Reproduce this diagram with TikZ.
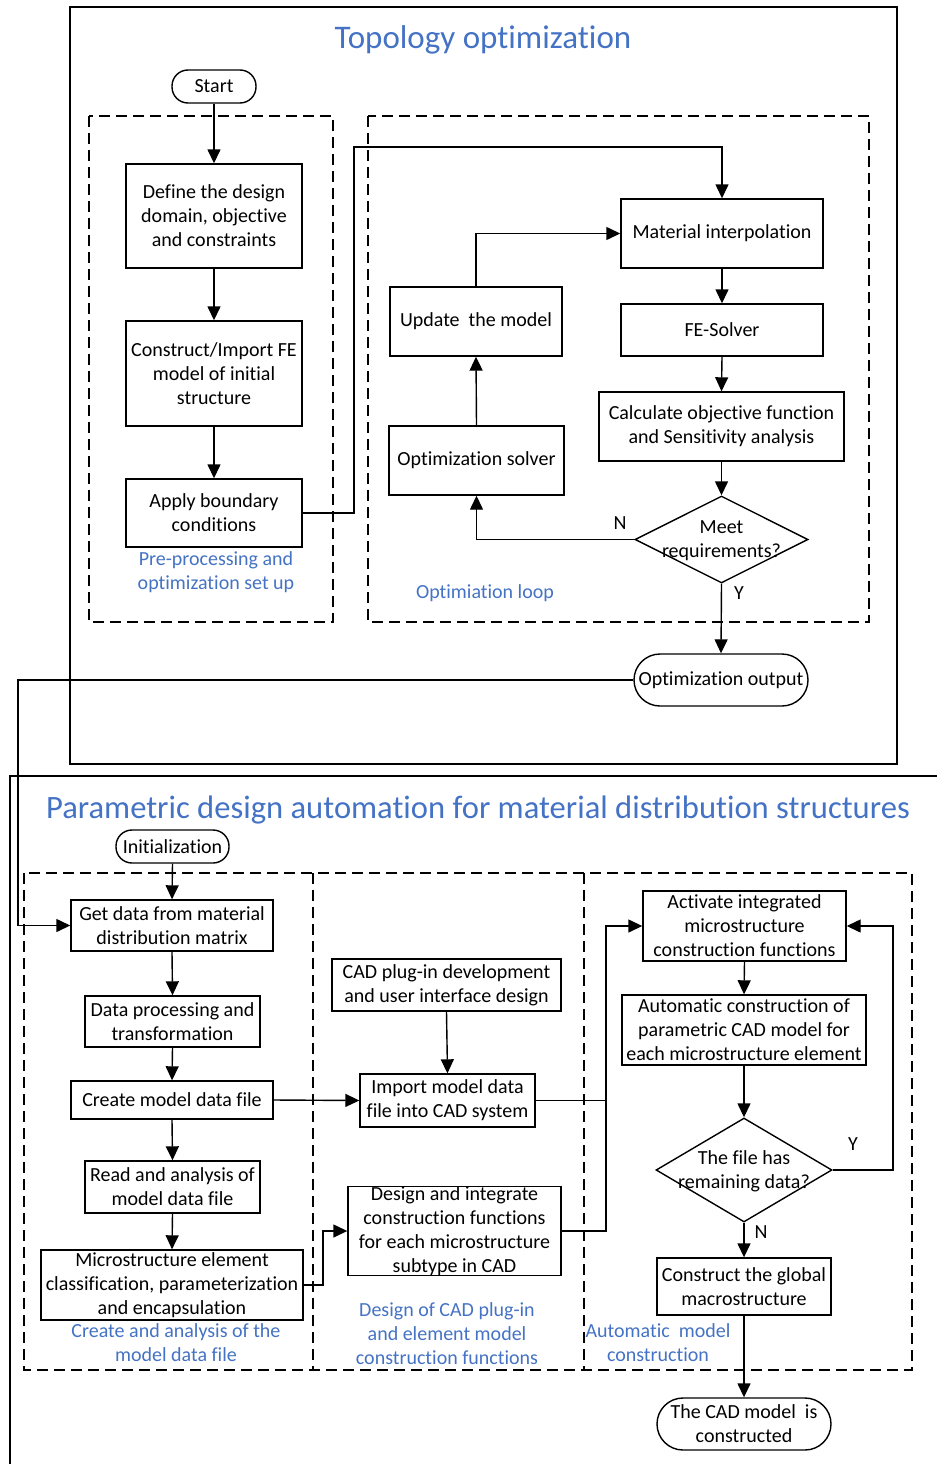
\documentclass[tikz,border=0pt]{standalone}
\usepackage{fontspec}
\setmainfont{Carlito}[Ligatures=NoCommon]
\usetikzlibrary{shapes.geometric,arrows.meta}
\definecolor{tblue}{RGB}{68,114,196}
\begin{document}
\begin{tikzpicture}[x=1pt,y=-1pt,
  lw/.style={line width=1.4pt},
  box/.style={draw,lw,align=center,inner sep=0pt,font=\fontsize{20}{24}\selectfont},
  term/.style={box},
  txt/.style={align=center,inner sep=0pt,font=\fontsize{20}{24}\selectfont},
  blue/.style={txt,text=tblue},
  ttl/.style={inner sep=0pt,text=tblue},
  dia/.style={draw,lw,diamond,inner sep=0pt},
  dbox/.style={draw,line width=1.4pt,dash pattern=on 11pt off 6pt},
  arr/.style={lw,-{Triangle[length=14pt,width=13pt]}},
  ln/.style={lw}]
\useasboundingbox (0,0) rectangle (937,1464);

% ---------- Topology optimization ----------
\draw[ln] (70,7) rectangle (897,764);
\node[ttl,font=\fontsize{33}{38}\selectfont] (t1) at (483,40) {Topology optimization};
\node[term,minimum width=84pt,minimum height=33pt,rounded corners=16pt] (start) at (214,86.5) {Start};
\draw[dbox] (89,116) rectangle (333,622);
\draw[dbox] (368,116) rectangle (869,622);

\node[box,minimum width=176pt,minimum height=104pt] (define) at (214,216) {Define the design\\domain, objective\\and constraints};
\node[box,minimum width=176pt,minimum height=105pt] (construct) at (214,373.5) {Construct/Import FE\\model of initial\\structure};
\node[box,minimum width=176pt,minimum height=68pt] (apply) at (214,513) {Apply boundary\\conditions};
\node[blue] (lbl1) at (216,572.5) {Pre-processing and\\optimization set up};

\node[box,minimum width=202pt,minimum height=69pt] (material) at (722,233.5) {Material interpolation};
\node[box,minimum width=202pt,minimum height=52pt] (fesolver) at (722,330) {FE-Solver};
\node[box,minimum width=245pt,minimum height=69pt] (calc) at (721.5,426.5) {Calculate objective function\\and Sensitivity analysis};
\node[dia,minimum width=173pt,minimum height=87pt] (meet) at (721.5,539.5) {};
\node[txt] (meett) at (721.5,541) {Meet\\requirements?};
\node[box,minimum width=172pt,minimum height=69pt] (update) at (476,321.5) {Update~ the model};
\node[box,minimum width=175pt,minimum height=69pt] (optsolver) at (476.5,460.5) {Optimization solver};
\node[blue] (lbl2) at (485,593) {Optimiation loop};
\node[txt] (n1) at (620,523) {N};
\node[txt] (y1) at (739,593) {Y};
\node[term,minimum width=174pt,minimum height=52pt,rounded corners=26pt] (optout) at (721,680) {Optimization output};

\draw[arr] (start.south) -- (define.north);
\draw[arr] (define.south) -- (construct.north);
\draw[arr] (construct.south) -- (apply.north);
\draw[arr] (apply.east) -- (354,513) -- (354,147) -| (material.north);
\draw[arr] (material.south) -- (fesolver.north);
\draw[arr] (fesolver.south) -- (calc.north);
\draw[arr] (calc.south) -- (meet.north);
\draw[arr] (optsolver.north) -- (update.south);
\draw[arr] (update.north) |- (material.west);
\draw[arr] (meet.west) -| (optsolver.south);
\draw[arr] (meet.south) -- (optout.north);

% ---------- Parametric design automation ----------
\draw[ln] (10,1464) -- (10,776) -- (937,776);
\node[ttl,font=\fontsize{32.6}{38}\selectfont] (t2) at (478,810) {Parametric design automation for material distribution structures};
\node[term,minimum width=113pt,minimum height=33pt,rounded corners=16pt] (init) at (172.5,846.5) {Initialization};
\draw[dbox] (24,873) rectangle (912,1370);
\draw[dbox] (313,873) -- (313,1370);
\draw[dbox] (584,873) -- (584,1370);

\node[box,minimum width=202pt,minimum height=51pt] (getdata) at (172,925.5) {Get data from material\\distribution matrix};
\node[box,minimum width=175pt,minimum height=51pt] (dataproc) at (172.5,1021.5) {Data processing and\\transformation};
\node[box,minimum width=202pt,minimum height=38pt] (create) at (172,1100) {Create model data file};
\node[box,minimum width=175pt,minimum height=52pt] (readan) at (172.5,1187) {Read and analysis of\\model data file};
\node[box,minimum width=262pt,minimum height=70pt] (micro) at (172,1285) {Microstructure element\\classification, parameterization\\and encapsulation};
\node[blue] (lbl3) at (176,1343) {Create and analysis of the\\model data file};

\node[box,minimum width=229pt,minimum height=52pt] (cadplug) at (446.5,985) {CAD plug-in development\\and user interface design};
\node[box,minimum width=175pt,minimum height=53pt] (import) at (447.5,1100.5) {Import model data\\file into CAD system};
\node[box,minimum width=213pt,minimum height=88pt] (design) at (454.5,1231) {Design and integrate\\construction functions\\for each microstructure\\subtype in CAD};
\node[blue] (lbl4) at (447,1334) {Design of CAD plug-in\\and element model\\construction functions};

\node[box,minimum width=203pt,minimum height=70pt] (activate) at (744.5,926) {Activate integrated\\microstructure\\construction functions};
\node[box,minimum width=244pt,minimum height=70pt] (auto) at (744,1030) {Automatic construction of\\parametric CAD model for\\each microstructure element};
\node[dia,minimum width=176pt,minimum height=104pt] (remain) at (744,1170) {};
\node[txt] (remaint) at (744,1171) {The file has\\remaining data?};
\node[box,minimum width=174pt,minimum height=57pt] (global) at (744,1286.5) {Construct the global\\macrostructure};
\node[term,minimum width=174pt,minimum height=52pt,rounded corners=26pt] (cadmodel) at (744,1424) {The CAD model~ is\\constructed};
\node[blue] (lbl5) at (658,1343) {Automatic~ model\\construction};
\node[txt] (y2) at (853,1144) {Y};
\node[txt] (n2) at (761,1232) {N};

\draw[arr] (optout.west) -- (18,680) |- (getdata.west);
\draw[arr] (init.south) -- (getdata.north);
\draw[arr] (getdata.south) -- (dataproc.north);
\draw[arr] (dataproc.south) -- (create.north);
\draw[arr] (create.south) -- (readan.north);
\draw[arr] (readan.south) -- (micro.north);
\draw[arr] (create.east) -- (import.west);
\draw[arr] (micro.east) -- (323,1285) |- (design.west);
\draw[arr] (cadplug.south) -- (import.north);
\draw[ln] (import.east) -- (606,1100.5);
\draw[arr] (design.east) -- (606,1231) |- (activate.west);
\draw[arr] (activate.south) -- (auto.north);
\draw[arr] (auto.south) -- (remain.north);
\draw[arr] (remain.south) -- (global.north);
\draw[arr] (global.south) -- (cadmodel.north);
\draw[arr] (remain.east) -- (893,1170) |- (activate.east);
\end{tikzpicture}
\end{document}
